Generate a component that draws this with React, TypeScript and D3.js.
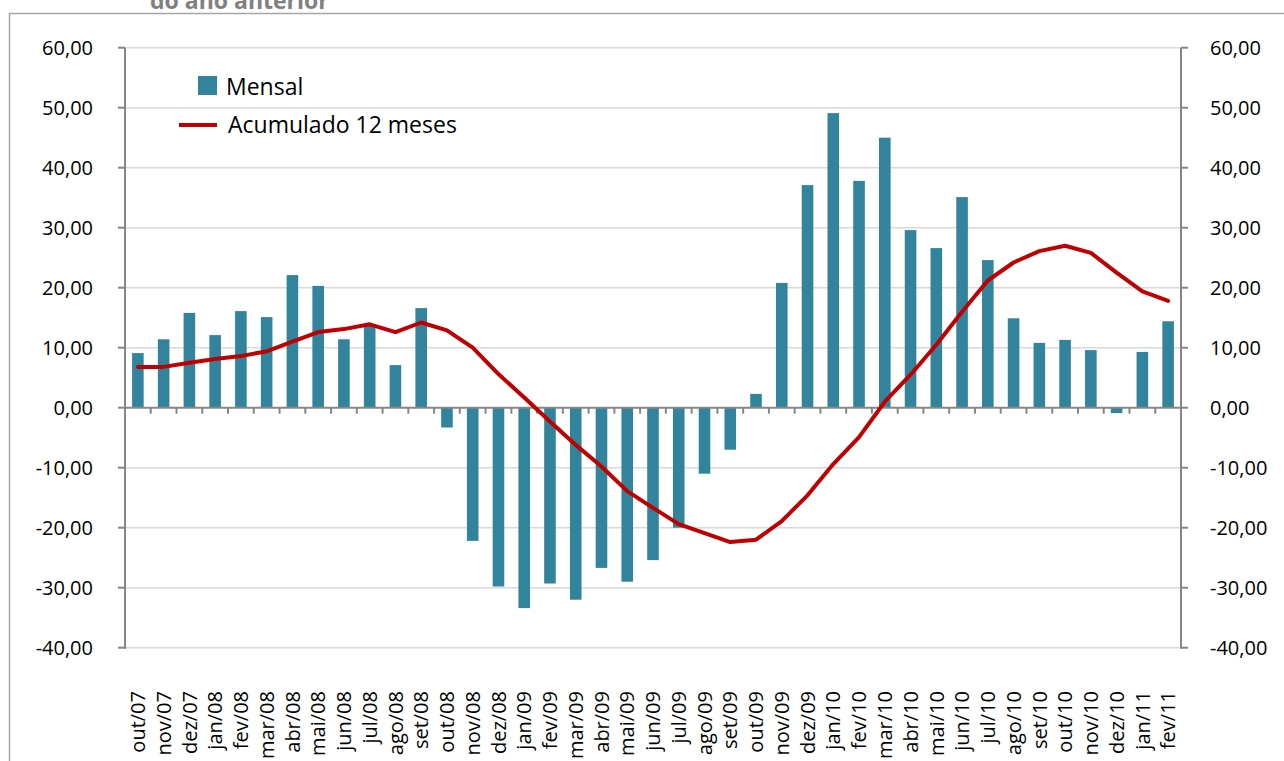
import React, { useEffect, useRef } from "react";
import * as d3 from "d3";

const months = [
  "out/07", "nov/07", "dez/07",
  "jan/08", "fev/08", "mar/08", "abr/08", "mai/08", "jun/08",
  "jul/08", "ago/08", "set/08", "out/08", "nov/08", "dez/08",
  "jan/09", "fev/09", "mar/09", "abr/09", "mai/09", "jun/09",
  "jul/09", "ago/09", "set/09", "out/09", "nov/09", "dez/09",
  "jan/10", "fev/10", "mar/10", "abr/10", "mai/10", "jun/10",
  "jul/10", "ago/10", "set/10", "out/10", "nov/10", "dez/10",
  "jan/11", "fev/11",
];

const mensal = [
  9.1, 11.4, 15.8,
  12.1, 16.1, 15.1, 22.1, 20.3, 11.4,
  13.8, 7.1, 16.6, -3.3, -22.2, -29.8,
  -33.4, -29.3, -32.0, -26.7, -29.0, -25.4,
  -20.0, -11.0, -7.0, 2.3, 20.8, 37.1,
  49.1, 37.8, 45.0, 29.6, 26.6, 35.1,
  24.6, 14.9, 10.8, 11.3, 9.6, -0.9,
  9.3, 14.4,
];

const acumulado = [
  6.8, 6.8, 7.5,
  8.1, 8.6, 9.4, 11.0, 12.6, 13.1,
  13.9, 12.6, 14.2, 12.9, 10.0, 5.6,
  1.7, -2.3, -6.2, -9.8, -13.9, -16.7,
  -19.4, -20.9, -22.4, -22.0, -18.9, -14.6,
  -9.4, -4.9, 1.0, 5.5, 10.5, 16.0,
  21.2, 24.2, 26.1, 27.0, 25.8, 22.5,
  19.4, 17.8,
];

const yTicks = [60, 50, 40, 30, 20, 10, 0, -10, -20, -30, -40];

const fmt = (v: number) => v.toFixed(2).replace(".", ",");

const App: React.FC = () => {
  const svgRef = useRef<SVGSVGElement>(null);

  useEffect(() => {
    if (!svgRef.current) return;
    document.body.style.margin = "0";

    const svg = d3.select(svgRef.current);
    svg.selectAll("*").remove();

    const width = 1284;
    const height = 761;
    const left = 125;
    const right = 1181;
    const top = 47.7;
    const bottom = 647.7;
    const font = "'Open Sans', sans-serif";

    svg.attr("width", width).attr("height", height);

    // frame
    svg
      .append("rect")
      .attr("x", 9.5)
      .attr("y", 13.5)
      .attr("width", 1290)
      .attr("height", 800)
      .attr("fill", "none")
      .attr("stroke", "#a6a6a6")
      .attr("stroke-width", 1.5);

    // title, cut off by the top edge as in the source
    svg
      .append("text")
      .attr("x", 150)
      .attr("y", 9)
      .style("font-family", font)
      .style("font-size", "23px")
      .style("font-weight", "bold")
      .style("fill", "#808080")
      .text("do ano anterior");

    const x = d3
      .scaleBand<string>()
      .domain(months)
      .range([left, right])
      .paddingInner(0.55)
      .paddingOuter(0.275);

    const y = d3.scaleLinear().domain([-40, 60]).range([bottom, top]);

    // grid
    svg
      .append("g")
      .selectAll("line")
      .data(yTicks.filter((d) => d !== 0 && d !== -40))
      .join("line")
      .attr("x1", left)
      .attr("x2", right)
      .attr("y1", (d) => y(d))
      .attr("y2", (d) => y(d))
      .attr("stroke", "#d9d9d9")
      .attr("stroke-width", 1.5);

    // bars
    svg
      .append("g")
      .selectAll("rect")
      .data(mensal)
      .join("rect")
      .attr("x", (_, i) => x(months[i])!)
      .attr("width", x.bandwidth())
      .attr("y", (d) => y(Math.max(0, d)))
      .attr("height", (d) => Math.abs(y(d) - y(0)))
      .attr("fill", "#31849b");

    // zero axis with ticks
    const step = (right - left) / months.length;
    svg
      .append("line")
      .attr("x1", left)
      .attr("x2", right)
      .attr("y1", y(0))
      .attr("y2", y(0))
      .attr("stroke", "#868686")
      .attr("stroke-width", 2);
    svg
      .append("g")
      .selectAll("line")
      .data(d3.range(1, months.length))
      .join("line")
      .attr("x1", (d) => left + d * step)
      .attr("x2", (d) => left + d * step)
      .attr("y1", y(0))
      .attr("y2", y(0) + 6)
      .attr("stroke", "#868686")
      .attr("stroke-width", 2);

    // bottom line
    svg
      .append("line")
      .attr("x1", left)
      .attr("x2", right)
      .attr("y1", bottom)
      .attr("y2", bottom)
      .attr("stroke", "#d9d9d9")
      .attr("stroke-width", 1.5);

    // line series
    const line = d3
      .line<number>()
      .x((_, i) => x(months[i])! + x.bandwidth() / 2)
      .y((d) => y(d));

    svg
      .append("path")
      .datum(acumulado)
      .attr("d", line)
      .attr("fill", "none")
      .attr("stroke", "#c00000")
      .attr("stroke-width", 4)
      .attr("stroke-linejoin", "round")
      .attr("stroke-linecap", "round");

    // vertical axes
    [left, right].forEach((ax, k) => {
      const g = svg.append("g");
      g.append("line")
        .attr("x1", ax)
        .attr("x2", ax)
        .attr("y1", top)
        .attr("y2", bottom + 1)
        .attr("stroke", "#868686")
        .attr("stroke-width", 2);
      g.selectAll("line.tick")
        .data(yTicks)
        .join("line")
        .attr("class", "tick")
        .attr("x1", k === 0 ? ax - 7 : ax)
        .attr("x2", k === 0 ? ax : ax + 7)
        .attr("y1", (d) => y(d))
        .attr("y2", (d) => y(d))
        .attr("stroke", "#868686")
        .attr("stroke-width", 2);
      g.selectAll("text")
        .data(yTicks)
        .join("text")
        .attr("x", k === 0 ? 93 : 1210)
        .attr("y", (d) => y(d))
        .attr("dy", "0.36em")
        .attr("text-anchor", k === 0 ? "end" : "start")
        .style("font-family", font)
        .style("font-size", "20px")
        .style("fill", "#000")
        .text((d) => fmt(d));
    });

    // month labels
    svg
      .append("g")
      .selectAll("text")
      .data(months)
      .join("text")
      .attr(
        "transform",
        (d) => `translate(${x(d)! + x.bandwidth() / 2}, 691) rotate(-90)`
      )
      .attr("dy", "0.36em")
      .attr("text-anchor", "end")
      .style("font-family", font)
      .style("font-size", "20px")
      .style("fill", "#000")
      .text((d) => d);

    // legend
    const legend = svg.append("g");
    legend
      .append("rect")
      .attr("x", 198)
      .attr("y", 76)
      .attr("width", 19)
      .attr("height", 19)
      .attr("fill", "#31849b");
    legend
      .append("text")
      .attr("x", 226)
      .attr("y", 95)
      .style("font-family", font)
      .style("font-size", "23px")
      .style("fill", "#000")
      .text("Mensal");
    legend
      .append("line")
      .attr("x1", 179)
      .attr("x2", 217)
      .attr("y1", 125)
      .attr("y2", 125)
      .attr("stroke", "#c00000")
      .attr("stroke-width", 4);
    legend
      .append("text")
      .attr("x", 228)
      .attr("y", 133)
      .style("font-family", font)
      .style("font-size", "23px")
      .style("fill", "#000")
      .text("Acumulado 12 meses");
  }, []);

  return <svg ref={svgRef} style={{ display: "block" }}></svg>;
};

export default App;
